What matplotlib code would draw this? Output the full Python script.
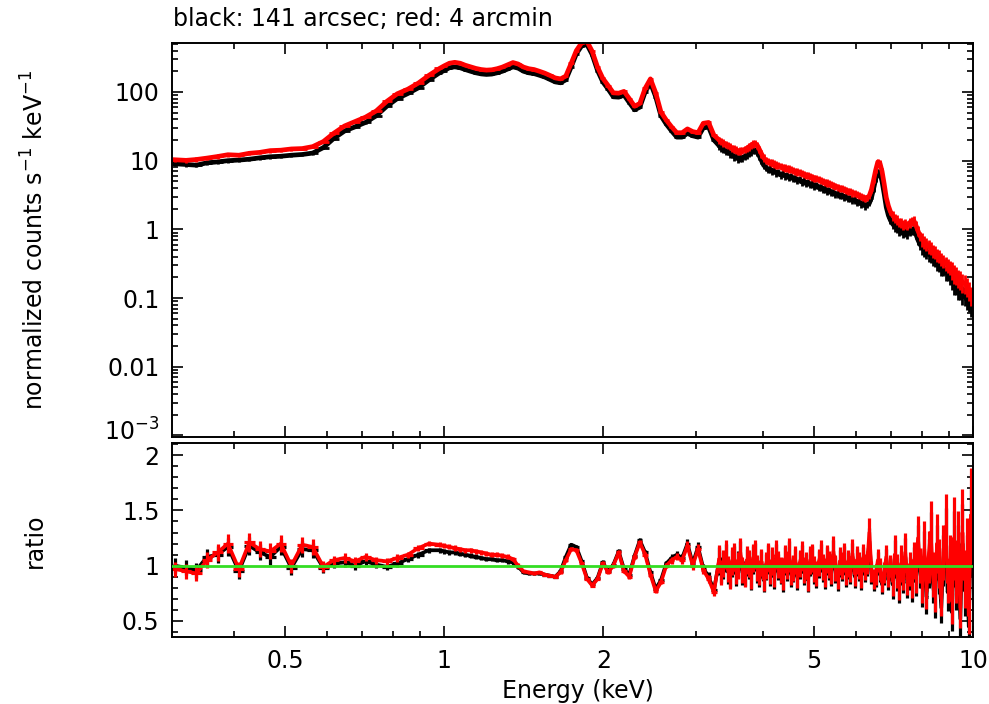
import numpy as np
import matplotlib
matplotlib.use('Agg')
import matplotlib.pyplot as plt
from matplotlib.ticker import FixedLocator, FixedFormatter, NullFormatter, LogLocator, MultipleLocator
from matplotlib.transforms import ScaledTranslation

FONT = 'DejaVu Sans'
plt.rcParams['font.family'] = [FONT]
plt.rcParams['mathtext.fontset'] = 'dejavusans'

# ---------------- data ----------------
# three energy segments (keV), bin centres
energy_low = [0.310, 0.325, 0.340, 0.356, 0.373, 0.390, 0.409, 0.428, 0.448, 0.469, 0.491, 0.514, 0.539,
              0.564, 0.591, 0.618, 0.648, 0.678, 0.710, 0.744, 0.779, 0.815, 0.854, 0.894, 0.936, 0.980]
energy_mid = [1.000, 1.023, 1.047, 1.072, 1.096, 1.122, 1.148, 1.175, 1.202, 1.230, 1.259, 1.288, 1.318,
              1.349, 1.380, 1.413, 1.445, 1.479, 1.514, 1.549, 1.585, 1.622, 1.660, 1.698, 1.738, 1.778,
              1.820, 1.862, 1.905, 1.950, 1.995, 2.042, 2.089, 2.138, 2.188, 2.239, 2.291, 2.344, 2.399,
              2.455, 2.512, 2.570, 2.630, 2.692, 2.754, 2.818, 2.884, 2.951, 3.020, 3.090, 3.162, 3.236]
energy_high = [3.311, 3.342, 3.373, 3.404, 3.436, 3.468, 3.499, 3.532, 3.565, 3.598, 3.631, 3.664, 3.698, 3.732,
               3.767, 3.802, 3.837, 3.873, 3.908, 3.945, 3.981, 4.018, 4.055, 4.093, 4.130, 4.169, 4.207, 4.246,
               4.285, 4.325, 4.365, 4.406, 4.446, 4.487, 4.529, 4.571, 4.613, 4.656, 4.699, 4.742, 4.786, 4.831,
               4.875, 4.920, 4.966, 5.012, 5.058, 5.105, 5.152, 5.200, 5.248, 5.297, 5.346, 5.395, 5.445, 5.495,
               5.546, 5.598, 5.649, 5.702, 5.754, 5.808, 5.861, 5.916, 5.970, 6.026, 6.081, 6.138, 6.194, 6.252,
               6.310, 6.368, 6.427, 6.486, 6.546, 6.607, 6.668, 6.730, 6.792, 6.855, 6.918, 6.982, 7.047, 7.112,
               7.178, 7.244, 7.311, 7.379, 7.447, 7.516, 7.586, 7.656, 7.727, 7.798, 7.870, 7.943, 8.017, 8.091,
               8.166, 8.241, 8.318, 8.395, 8.472, 8.551, 8.630, 8.710, 8.790, 8.872, 8.954, 9.036, 9.120, 9.204,
               9.290, 9.376, 9.462, 9.550, 9.638, 9.727, 9.817, 9.908]

# normalized counts s^-1 keV^-1, black (141 arcsec)
counts_black_low = [9.0, 8.8, 8.6, 9.3, 9.6, 10.0, 10.2, 10.5, 11.0, 11.4, 11.6, 12.0, 12.3,
                    12.9, 15.5, 21, 27, 31, 36, 45, 62, 80, 95, 115, 150, 190]
counts_black_mid = [205, 225, 232, 225, 212, 200, 190, 183, 180, 182, 190, 200, 215,
                    232, 222, 200, 190, 185, 175, 165, 152, 140, 136, 150, 230, 360,
                    470, 490, 350, 205, 140, 110, 85, 84, 90, 70, 55, 60, 100,
                    135, 85, 45, 34, 27, 22, 22, 25, 23, 22, 30, 31, 20]
counts_black_high = [16.5, 15.2, 14.8, 13.6, 13.9, 12.6, 12.3, 11.4, 11.8, 10.6, 11.0, 10.9, 11.6, 11.9,
                     12.8, 13.2, 14.0, 14.1, 13.2, 11.6, 10.0, 8.6, 8.0, 7.4, 7.6, 7.0, 7.2, 6.6,
                     6.7, 6.2, 6.5, 6.0, 6.1, 5.7, 5.9, 5.5, 5.6, 5.2, 5.3, 4.9, 5.1, 4.7,
                     4.8, 4.5, 4.6, 4.3, 4.4, 4.05, 4.15, 3.85, 3.9, 3.65, 3.7, 3.45, 3.5, 3.25,
                     3.3, 3.1, 3.15, 2.95, 3.0, 2.8, 2.85, 2.65, 2.7, 2.5, 2.55, 2.35, 2.4, 2.2,
                     2.3, 2.4, 2.9, 3.9, 5.4, 6.9, 6.6, 5.0, 3.3, 2.1, 1.6, 1.35, 1.2, 1.1,
                     1.05, 0.95, 0.98, 0.88, 0.92, 0.86, 0.95, 0.98, 1.0, 0.85, 0.7, 0.6, 0.55, 0.5,
                     0.48, 0.43, 0.42, 0.37, 0.36, 0.32, 0.31, 0.27, 0.27, 0.23, 0.23, 0.2, 0.19, 0.16,
                     0.16, 0.135, 0.135, 0.115, 0.11, 0.095, 0.09, 0.075]

# normalized counts, red (4 arcmin)
counts_red_low = [10.3, 10.1, 10.4, 10.9, 11.5, 12.2, 12.0, 12.8, 13.2, 14.0, 14.2, 14.8, 15.0,
                  16.0, 19.0, 25, 32, 37, 43, 53, 73, 94, 110, 135, 175, 220]
counts_red_mid = [240, 262, 270, 262, 245, 232, 220, 212, 208, 210, 218, 230, 248,
                  268, 255, 230, 218, 212, 200, 188, 174, 160, 155, 170, 260, 400,
                  520, 545, 390, 230, 158, 124, 97, 96, 102, 80, 62, 68, 113,
                  155, 97, 51, 39, 31, 25.5, 25.5, 29, 26.5, 25.5, 35, 36, 23.5]
counts_red_high = [20.0, 19.0, 18.2, 17.5, 16.8, 16.2, 15.3, 14.9, 14.4, 13.8, 13.9, 14.0, 14.5, 15.1,
                   15.9, 16.8, 17.6, 17.8, 16.8, 14.6, 12.6, 11.0, 10.2, 9.8, 9.5, 9.3, 9.0, 8.7,
                   8.5, 8.3, 8.1, 7.9, 7.7, 7.6, 7.4, 7.2, 7.0, 6.9, 6.7, 6.5, 6.4, 6.2,
                   6.1, 5.9, 5.8, 5.6, 5.5, 5.3, 5.2, 5.0, 4.9, 4.75, 4.65, 4.5, 4.4, 4.25,
                   4.15, 4.0, 3.95, 3.8, 3.75, 3.6, 3.55, 3.4, 3.35, 3.2, 3.15, 3.0, 2.95, 2.85,
                   2.9, 3.1, 3.8, 5.2, 7.3, 9.6, 9.2, 7.0, 4.6, 2.9, 2.2, 1.8, 1.6, 1.45,
                   1.38, 1.28, 1.25, 1.18, 1.2, 1.15, 1.25, 1.32, 1.35, 1.15, 0.95, 0.8, 0.72, 0.66,
                   0.62, 0.57, 0.54, 0.49, 0.47, 0.43, 0.41, 0.37, 0.35, 0.32, 0.3, 0.28, 0.26, 0.23,
                   0.22, 0.2, 0.19, 0.17, 0.165, 0.15, 0.13, 0.11]

# data / model ratio
ratio_black_low = [1.00, 0.98, 0.96, 1.08, 1.10, 1.17, 0.95, 1.18, 1.12, 1.08, 1.17, 0.98, 1.15,
                   1.14, 0.98, 1.02, 1.03, 1.00, 1.04, 1.01, 0.99, 1.02, 1.06, 1.10, 1.14, 1.14]
ratio_black_mid = [1.13, 1.12, 1.12, 1.11, 1.10, 1.09, 1.08, 1.07, 1.06, 1.06, 1.05, 1.05, 1.04,
                   1.03, 0.99, 0.94, 0.93, 0.93, 0.93, 0.92, 0.91, 0.90, 0.95, 1.08, 1.19, 1.17,
                   1.04, 0.89, 0.83, 0.89, 1.03, 0.95, 1.01, 1.13, 0.97, 0.92, 1.09, 1.23, 1.12,
                   0.94, 0.79, 0.87, 1.02, 1.07, 1.10, 1.07, 1.20, 1.02, 1.17, 0.98, 0.90, 0.78]
ratio_black_high = [1.04, 0.96, 1.00, 1.07, 0.95, 0.92, 1.02, 1.05, 0.93, 1.01, 1.09, 0.94, 0.93, 1.03,
                    1.00, 0.89, 1.05, 1.08, 0.96, 0.92, 1.01, 0.87, 0.99, 1.06, 0.93, 1.02, 0.90, 1.07,
                    0.99, 0.95, 0.87, 1.04, 0.98, 1.09, 0.92, 0.97, 1.03, 0.89, 1.00, 1.06, 0.94, 0.99,
                    0.87, 1.03, 1.05, 0.95, 0.91, 1.01, 1.07, 0.97, 0.90, 1.04, 0.99, 0.93, 1.10, 0.96,
                    0.88, 1.02, 0.98, 1.05, 0.92, 1.00, 0.95, 1.08, 0.91, 1.03, 0.98, 0.89, 1.04, 0.97,
                    1.01, 1.22, 0.93, 0.86, 0.90, 1.02, 0.95, 0.83, 0.92, 1.05, 0.87, 0.97, 0.83, 1.06,
                    0.92, 0.79, 0.98, 0.90, 1.08, 0.84, 0.93, 0.80, 1.01, 0.86, 1.18, 0.95, 0.80, 1.08,
                    0.72, 1.02, 1.22, 0.85, 0.68, 1.12, 0.95, 0.62, 1.05, 1.25, 0.76, 0.97, 0.58, 1.15,
                    0.86, 1.05, 0.52, 1.20, 0.78, 0.98, 0.45, 1.30]

ratio_red_low = [0.97, 0.95, 0.93, 1.05, 1.12, 1.20, 0.97, 1.21, 1.15, 1.13, 1.20, 1.00, 1.19,
                 1.17, 0.99, 1.05, 1.07, 1.04, 1.08, 1.05, 1.04, 1.07, 1.10, 1.16, 1.20, 1.19]
ratio_red_mid = [1.18, 1.17, 1.16, 1.15, 1.14, 1.14, 1.13, 1.12, 1.11, 1.10, 1.10, 1.09, 1.08,
                 1.06, 1.00, 0.95, 0.94, 0.93, 0.94, 0.92, 0.91, 0.90, 0.94, 1.05, 1.15, 1.14,
                 1.02, 0.88, 0.82, 0.88, 1.02, 0.94, 1.00, 1.12, 0.95, 0.90, 1.08, 1.21, 1.10,
                 0.92, 0.77, 0.85, 1.00, 1.05, 1.08, 1.05, 1.18, 1.00, 1.15, 0.96, 0.88, 0.76]
ratio_red_high = [1.06, 0.94, 1.02, 1.10, 0.97, 0.90, 1.04, 1.08, 0.95, 1.00, 1.12, 0.96, 0.92, 1.05,
                  1.02, 0.90, 1.07, 1.10, 0.98, 0.94, 1.03, 0.88, 1.00, 1.08, 0.95, 1.04, 0.92, 1.10,
                  1.01, 0.96, 0.89, 1.06, 1.00, 1.12, 0.94, 0.98, 1.05, 0.91, 1.02, 1.09, 0.96, 1.00,
                  0.88, 1.05, 1.07, 0.97, 0.93, 1.03, 1.10, 0.99, 0.92, 1.06, 1.01, 0.95, 1.13, 0.98,
                  0.90, 1.04, 1.00, 1.08, 0.94, 1.02, 0.97, 1.11, 0.93, 1.05, 1.00, 0.91, 1.07, 0.99,
                  1.03, 1.30, 0.95, 0.88, 0.92, 1.05, 0.97, 0.85, 0.94, 1.08, 0.90, 1.00, 0.86, 1.10,
                  0.95, 0.82, 1.02, 0.93, 1.12, 0.88, 0.97, 0.84, 1.05, 0.90, 1.25, 1.00, 0.85, 1.15,
                  0.78, 1.08, 1.30, 0.92, 0.75, 1.20, 1.02, 0.70, 1.12, 1.35, 0.85, 1.05, 0.68, 1.25,
                  0.95, 1.15, 0.62, 1.30, 0.88, 1.10, 0.55, 1.45]

# fractional 1-sigma error of each bin
rel_err_low = [0.07, 0.07, 0.07, 0.07, 0.07, 0.07, 0.07, 0.07, 0.065, 0.065, 0.065, 0.065, 0.06,
               0.06, 0.05, 0.04, 0.04, 0.035, 0.035, 0.03, 0.03, 0.03, 0.025, 0.025, 0.02, 0.02]
rel_err_mid = [0.02, 0.02, 0.02, 0.02, 0.02, 0.02, 0.02, 0.02, 0.02, 0.02, 0.02, 0.02, 0.02,
               0.02, 0.02, 0.015, 0.015, 0.015, 0.015, 0.015, 0.015, 0.015, 0.015, 0.015, 0.015, 0.015,
               0.015, 0.015, 0.015, 0.015, 0.02, 0.02, 0.02, 0.02, 0.02, 0.02, 0.02, 0.02, 0.02,
               0.02, 0.02, 0.02, 0.02, 0.03, 0.03, 0.03, 0.035, 0.035, 0.04, 0.04, 0.045, 0.05]
rel_err_high = [0.12, 0.12, 0.12, 0.12, 0.12, 0.12, 0.12, 0.12, 0.12, 0.12, 0.12, 0.12, 0.12, 0.12,
                0.12, 0.12, 0.12, 0.12, 0.12, 0.12, 0.12, 0.12, 0.12, 0.12, 0.12, 0.12, 0.12, 0.12,
                0.12, 0.12, 0.12, 0.12, 0.12, 0.12, 0.12, 0.12, 0.12, 0.12, 0.12, 0.12, 0.12, 0.12,
                0.12, 0.12, 0.12, 0.12, 0.12, 0.12, 0.12, 0.12, 0.12, 0.12, 0.12, 0.12, 0.12, 0.12,
                0.12, 0.12, 0.12, 0.12, 0.12, 0.12, 0.12, 0.12, 0.12, 0.12, 0.12, 0.12, 0.12, 0.12,
                0.10, 0.10, 0.10, 0.10, 0.10, 0.10, 0.10, 0.10, 0.10, 0.10, 0.10, 0.10, 0.16, 0.16,
                0.16, 0.16, 0.16, 0.16, 0.16, 0.16, 0.16, 0.16, 0.16, 0.16, 0.16, 0.16, 0.22, 0.22,
                0.22, 0.22, 0.22, 0.22, 0.22, 0.22, 0.22, 0.22, 0.22, 0.22, 0.22, 0.22, 0.30, 0.30,
                0.30, 0.30, 0.30, 0.30, 0.30, 0.30, 0.30, 0.30]

y_ticks_top = [1e-3, 1e-2, 1e-1, 1, 10, 100]
y_ticklabels_top = [r'$10^{-3}$', '0.01', '0.1', '1', '10', '100']
x_ticks = [0.5, 1, 2, 5, 10]
x_ticklabels = ['0.5', '1', '2', '5', '10']
y_ticks_ratio = [0.5, 1, 1.5, 2]
y_ticklabels_ratio = ['0.5', '1', '1.5', '2']
title = 'black: 141 arcsec; red: 4 arcmin'

# ---------------- derived ----------------
E = np.array(energy_low + energy_mid + energy_high)
cb = np.array(counts_black_low + counts_black_mid + counts_black_high)
cr = np.array(counts_red_low + counts_red_mid + counts_red_high)
rb = np.array(ratio_black_low + ratio_black_mid + ratio_black_high)
rr = np.array(ratio_red_low + ratio_red_mid + ratio_red_high)
rel = np.array(rel_err_low + rel_err_mid + rel_err_high)
n = len(E)
assert all(len(a) == n for a in (cb, cr, rb, rr, rel)), [len(a) for a in (E, cb, cr, rb, rr, rel)]

mids = np.sqrt(E[:-1] * E[1:])
lo_edge = np.concatenate([[E[0] ** 2 / mids[0]], mids])
hi_edge = np.concatenate([mids, [E[-1] ** 2 / mids[-1]]])
xerr = np.vstack([E - lo_edge, hi_edge - E])

FS = 17
W, H = 989, 704
fig = plt.figure(figsize=(W / 100, H / 100), dpi=100)
ax1 = fig.add_axes([172 / W, 1 - 437 / H, (973 - 172) / W, (437 - 43) / H])
ax2 = fig.add_axes([172 / W, 1 - 637 / H, (973 - 172) / W, (637 - 443) / H])

RED = '#ff0000'
BLK = '#000000'
GRN = '#33dd22'

for c, col in [(cb, BLK), (cr, RED)]:
    ax1.plot(E, c, color=col, lw=3.4, solid_joinstyle='round', zorder=2)
    ax1.errorbar(E, c, xerr=xerr, yerr=c * rel, fmt='none', ecolor=col, elinewidth=2.0, capsize=0, zorder=2)

for r, col in [(rb, BLK), (rr, RED)]:
    ax2.plot(E, r, color=col, lw=2.6, solid_joinstyle='round', zorder=2)
    ax2.errorbar(E, r, xerr=xerr, yerr=r * rel, fmt='none', ecolor=col, elinewidth=2.3, capsize=0, zorder=2)
ax2.axhline(1.0, color=GRN, lw=2.0, zorder=3)

for ax in (ax1, ax2):
    ax.set_xscale('log')
    ax.set_xlim(0.3057, 10)
    ax.xaxis.set_major_locator(FixedLocator(x_ticks))
    ax.xaxis.set_minor_locator(FixedLocator([0.4, 0.6, 0.7, 0.8, 0.9, 3, 4, 6, 7, 8, 9]))
    ax.xaxis.set_minor_formatter(NullFormatter())
    ax.tick_params(which='both', direction='in', top=True, right=True, width=1.2, labelsize=FS, pad=9)
    ax.tick_params(which='major', length=8)
    ax.tick_params(which='minor', length=4.5)
    for s in ax.spines.values():
        s.set_linewidth(1.4)

ax1.set_yscale('log')
ax1.set_ylim(9.5e-4, 516)
ax1.yaxis.set_major_locator(FixedLocator(y_ticks_top))
ax1.yaxis.set_major_formatter(FixedFormatter(y_ticklabels_top))
ax1.yaxis.set_minor_locator(LogLocator(base=10, subs=np.arange(2, 10)))
ax1.yaxis.set_minor_formatter(NullFormatter())
ax1.xaxis.set_major_formatter(NullFormatter())

ax2.set_ylim(0.355, 2.11)
ax2.yaxis.set_major_locator(FixedLocator(y_ticks_ratio))
ax2.yaxis.set_major_formatter(FixedFormatter(y_ticklabels_ratio))
ax2.yaxis.set_minor_locator(MultipleLocator(0.1))
ax2.xaxis.set_major_formatter(FixedFormatter(x_ticklabels))

# lift the lowest label of the top panel a little, as in the reference
lowest_tick = ax1.yaxis.get_major_ticks()[0]
lowest_tick.label1.set_transform(lowest_tick.label1.get_transform() +
                                 ScaledTranslation(0, 4 / 72, fig.dpi_scale_trans))

fig.text(35 / W, 1 - 240 / H, r'normalized counts s$^{-1}$ keV$^{-1}$',
         rotation=90, ha='center', va='center', fontsize=FS)
fig.text(35 / W, 1 - 541 / H, 'ratio', rotation=90, ha='center', va='center', fontsize=FS)
fig.text(578 / W, 1 - 691 / H, 'Energy (keV)', ha='center', va='center', fontsize=FS)
fig.text(173 / W, 1 - 19 / H, title, ha='left', va='center', fontsize=FS)

fig.savefig('out.png', dpi=100)
